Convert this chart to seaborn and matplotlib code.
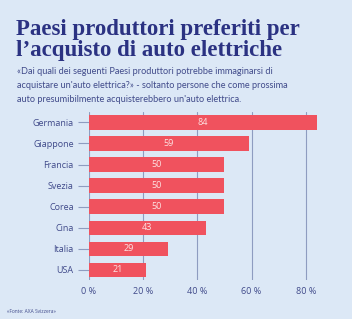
import matplotlib
matplotlib.use("Agg")
import matplotlib.pyplot as plt
import seaborn as sns
import pandas as pd

countries = ["Germania", "Giappone", "Francia", "Svezia", "Corea", "Cina", "Italia", "USA"]
values = [84, 59, 50, 50, 50, 43, 29, 21]
xticks = [0, 20, 40, 60, 80]
xticklabels = ["0 %", "20 %", "40 %", "60 %", "80 %"]

title = "Paesi produttori preferiti per\nl’acquisto di auto elettriche"
subtitle = ("«Dai quali dei seguenti Paesi produttori potrebbe immaginarsi di\n"
            "acquistare un'auto elettrica?» - soltanto persone che come prossima\n"
            "auto presumibilmente acquisterebbero un'auto elettrica.")
source = "«Fonte: AXA Svizzera»"

bg = "#dce8f6"
navy = "#2b3282"
text_c = "#404a8a"
bar_c = "#f0525e"
grid_c = "#8e9cc0"

df = pd.DataFrame({"country": countries, "value": values})

sns.set_theme(style="white")
plt.rcParams["font.family"] = ["Open Sans", "DejaVu Sans"]

fig = plt.figure(figsize=(3.52, 3.19), dpi=100, facecolor=bg)
ax = fig.add_axes([0.253, 0.122, 0.677, 0.527])
ax.set_facecolor(bg)

sns.barplot(data=df, x="value", y="country", color=bar_c, saturation=1,
            width=0.67, ax=ax, zorder=3, linewidth=0, edgecolor="none")

for i, v in enumerate(values):
    ax.text(v / 2, i, str(v), ha="center", va="center", color="#fde3e3",
            fontsize=6.5, zorder=4)

ax.set_xlim(0, 88)
ax.set_ylim(7.5, -0.5)
ax.set_xticks(xticks)
ax.set_xticklabels(xticklabels, fontsize=6.5, color=text_c)
ax.tick_params(axis="y", labelsize=6.5, labelcolor=text_c, length=8, width=0.8,
               color=grid_c, left=True, pad=3)
ax.tick_params(axis="x", length=0, pad=5)
ax.set_xlabel("")
ax.set_ylabel("")
for s in ax.spines.values():
    s.set_visible(False)
ax.grid(axis="x", color=grid_c, linewidth=0.8, zorder=0)
ax.grid(axis="y", visible=False)

fig.text(0.045, 0.94, title, fontsize=16.5, fontweight="bold", color=navy,
         family=["Liberation Serif", "DejaVu Serif"], va="top", linespacing=0.98)
fig.text(0.048, 0.79, subtitle, fontsize=6.6, color=text_c, va="top",
         linespacing=1.75, family=["Lato", "DejaVu Sans"])
fig.text(0.02, 0.015, source, fontsize=3.5, color=text_c, va="bottom")

fig.savefig("out.png", dpi=100, facecolor=bg)
